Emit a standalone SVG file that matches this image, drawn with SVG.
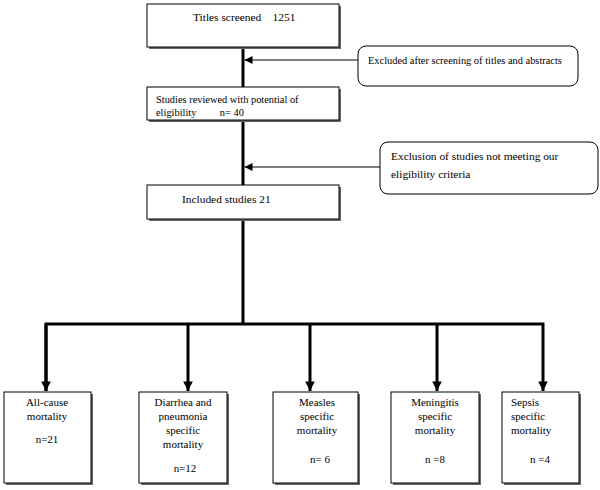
<svg xmlns="http://www.w3.org/2000/svg" width="600" height="490" viewBox="0 0 600 490">
<defs>
<marker id="ah" viewBox="0 0 10 10" refX="10" refY="5" markerWidth="3.2" markerHeight="3.2" orient="auto" markerUnits="strokeWidth"><path d="M0,0 L10,5 L0,10 z" fill="#000"/></marker>
<marker id="ahs" viewBox="0 0 10 10" refX="10" refY="5" markerWidth="8" markerHeight="8" orient="auto" markerUnits="strokeWidth"><path d="M0,0 L10,5 L0,10 z" fill="#000"/></marker>
</defs>
<style>
.box{fill:#fff;stroke:#000;stroke-width:1}
.sh{fill:#666}
.rb{fill:#fff;stroke:#000;stroke-width:1}
.t12{font-size:11.4px}
.t11{font-size:11px}
.tr{font-size:10.4px}
.t10{font-size:10.4px}
.c{text-anchor:middle}
.thick{stroke:#000;stroke-width:3;fill:none}
.thin{stroke:#000;stroke-width:1;fill:none}
</style>
<rect width="600" height="490" fill="#fff"/>
<g id="connectors">
<line class="thick" x1="243" y1="47" x2="243" y2="87"/>
<line class="thick" x1="243" y1="120" x2="243" y2="185"/>
<line class="thick" x1="243" y1="219" x2="243" y2="324"/>
<line class="thin" x1="358" y1="60" x2="244.5" y2="60" marker-end="url(#ahs)"/>
<line class="thin" x1="380" y1="167" x2="244.5" y2="167" marker-end="url(#ahs)"/>
<polyline class="thick" points="46,391 46,324 543,324 543,391" marker-end="url(#ah)"/>
<line class="thick" x1="46" y1="324" x2="46" y2="391" marker-end="url(#ah)"/>
<line class="thick" x1="188" y1="324" x2="188" y2="391" marker-end="url(#ah)"/>
<line class="thick" x1="310" y1="324" x2="310" y2="391" marker-end="url(#ah)"/>
<line class="thick" x1="437" y1="324" x2="437" y2="391" marker-end="url(#ah)"/>
</g>
<g font-family="'Liberation Serif', 'DejaVu Serif', serif" fill="#000">
<g id="titles">
<rect class="sh" x="149" y="6" width="192" height="43"/>
<rect class="box" x="147" y="4" width="192" height="43"/>
<text class="t12" x="193" y="21" xml:space="preserve">Titles screened    1251</text>
</g>
<g id="excluded1">
<rect class="rb" x="358" y="46" width="220" height="40" rx="8"/>
<text class="t10" x="368" y="64">Excluded after screening of titles and abstracts</text>
</g>
<g id="reviewed">
<rect class="sh" x="149" y="89" width="192" height="33"/>
<rect class="box" x="147" y="87" width="192" height="33"/>
<text class="tr" x="156" y="103">Studies reviewed with potential of</text>
<text class="tr" x="156" y="116" xml:space="preserve">eligibility         n= 40</text>
</g>
<g id="excluded2">
<rect class="rb" x="380" y="142" width="218" height="52" rx="8"/>
<text class="t12" x="391" y="160">Exclusion of studies not meeting our</text>
<text class="t12" x="391" y="178">eligibility criteria</text>
</g>
<g id="included">
<rect class="sh" x="149" y="187" width="192" height="34"/>
<rect class="box" x="147" y="185" width="192" height="34"/>
<text class="t12" x="182" y="203">Included studies 21</text>
</g>
<g id="allcause">
<rect class="sh" x="6" y="394" width="87" height="91"/>
<rect class="box" x="4" y="392" width="87" height="91"/>
<text class="t11 c" x="47" y="406">All-cause</text>
<text class="t11 c" x="47" y="420">mortality</text>
<text class="t11 c" x="47" y="443">n=21</text>
</g>
<g id="diarrhea">
<rect class="sh" x="141" y="394" width="88" height="91"/>
<rect class="box" x="139" y="392" width="88" height="91"/>
<text class="t11 c" x="183" y="406">Diarrhea and</text>
<text class="t11 c" x="183" y="420">pneumonia</text>
<text class="t11 c" x="183" y="434">specific</text>
<text class="t11 c" x="183" y="448">mortality</text>
<text class="t11 c" x="185" y="472">n=12</text>
</g>
<g id="measles">
<rect class="sh" x="275" y="394" width="85" height="91"/>
<rect class="box" x="273" y="392" width="85" height="91"/>
<text class="t11 c" x="317" y="406">Measles</text>
<text class="t11 c" x="317" y="420">specific</text>
<text class="t11 c" x="317" y="434">mortality</text>
<text class="t11 c" x="320" y="463">n= 6</text>
</g>
<g id="meningitis">
<rect class="sh" x="393" y="394" width="88" height="91"/>
<rect class="box" x="391" y="392" width="88" height="91"/>
<text class="t11 c" x="435" y="406">Meningitis</text>
<text class="t11 c" x="435" y="420">specific</text>
<text class="t11 c" x="435" y="434">mortality</text>
<text class="t11 c" x="435" y="463">n =8</text>
</g>
<g id="sepsis">
<rect class="sh" x="504" y="394" width="77" height="91"/>
<rect class="box" x="502" y="392" width="77" height="91"/>
<text class="t11" x="511" y="406">Sepsis</text>
<text class="t11" x="511" y="420">specific</text>
<text class="t11" x="511" y="434">mortality</text>
<text class="t11 c" x="540" y="463">n =4</text>
</g>
</g>
</svg>
